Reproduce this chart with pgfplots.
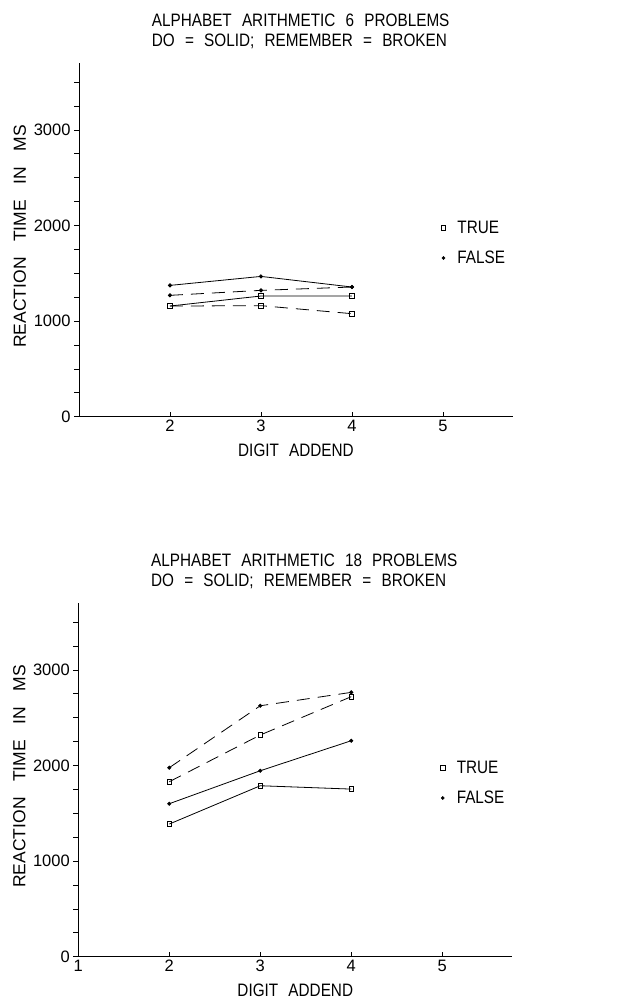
\documentclass[border=0pt]{standalone}
\usepackage{fontspec}
\setmainfont{Liberation Sans}[FakeStretch=0.85, WordSpace={2.4}]
\newfontfamily\tickfont{Liberation Sans}
\newfontfamily\labelfont{Liberation Sans}[WordSpace={3.2}]
\usepackage{pgfplots}
\pgfplotsset{compat=1.18}
\pgfplotsset{
  rtaxis/.style={
    scale only axis, width=434bp, height=353.6bp,
    xmin=1, xmax=5.77, ymin=0, ymax=3700,
    axis lines=left, axis line style={-, line width=0.8bp, black},
    ytick={0,1000,2000,3000},
    minor ytick={250,500,750,1250,1500,1750,2250,2500,2750,3250,3500},
    xtick align=inside, ytick align=outside,
    major tick length=5bp, minor tick length=5bp,
    every tick/.style={black, line width=0.8bp},
    /pgf/number format/assume math mode=true,
    /pgf/number format/1000 sep={},
    font=\fontsize{18bp}{20bp}\selectfont,
    tick label style={font=\tickfont\fontsize{16.5bp}{19bp}\selectfont},
    title style={at={(axis description cs:0.1675,1.124)}, anchor=north west, align=left, inner sep=0pt, font=\fontsize{18bp}{20bp}\selectfont},
    ylabel={REACTION TIME IN MS},
    ylabel style={at={(axis description cs:-0.136,0.51)}, anchor=center, font=\labelfont\fontsize{17.5bp}{19.5bp}\selectfont},
    xlabel={DIGIT ADDEND},
    xlabel style={at={(axis description cs:0.5,-0.077)}, anchor=north, inner sep=0pt, font=\fontsize{18bp}{20bp}\selectfont},
    legend style={draw=none, fill=none, at={(axis description cs:0.834,0.491)}, anchor=west, inner sep=0pt, row sep=12bp, font=\fontsize{18bp}{20bp}\selectfont},
    legend cell align=left,
    legend image code/.code={\draw[mark repeat=2,mark phase=2,#1] plot coordinates {(0bp,0bp) (0bp,0bp) (0bp,0bp)}; \path[draw=none, fill=none] (0bp,0bp) rectangle (12bp,0bp);},
    clip=false,
  },
  solidline/.style={black, line width=0.8bp, solid},
  brokenline/.style={black, line width=0.8bp, dash pattern=on 13bp off 8bp},
  truemark/.style={mark=square, mark size=2.3bp, mark options={solid, line width=0.8bp, fill=white}},
  falsemark/.style={mark=*, mark size=1.6bp, mark options={solid}},
}
\begin{document}
\begin{tikzpicture}
\useasboundingbox (0bp,0bp) rectangle (635bp,-999bp);
% ---- top panel: 6 problems
\begin{axis}[rtaxis, at={(79bp,-416.7bp)}, anchor=south west,
  xtick={2,3,4,5},
  title={ALPHABET ARITHMETIC 6 PROBLEMS\\DO = SOLID; REMEMBER = BROKEN}]
\addplot[solidline, truemark, forget plot] coordinates {(2,1158) (3,1263) (4,1263)};
\addplot[solidline, falsemark, forget plot] coordinates {(2,1374) (3,1468) (4,1357)};
\addplot[brokenline, truemark, forget plot] coordinates {(2,1158) (3,1162) (4,1078)};
\addplot[brokenline, falsemark, forget plot] coordinates {(2,1270) (3,1322) (4,1357)};
\addlegendimage{only marks, truemark}
\addlegendentry{TRUE}
\addlegendimage{only marks, falsemark}
\addlegendentry{FALSE}
\end{axis}
% ---- bottom panel: 18 problems
\begin{axis}[rtaxis, at={(78.3bp,-956.7bp)}, anchor=south west,
  xtick={1,2,3,4,5},
  title={ALPHABET ARITHMETIC 18 PROBLEMS\\DO = SOLID; REMEMBER = BROKEN}]
\addplot[solidline, truemark, forget plot] coordinates {(2,1388) (3,1789) (4,1754)};
\addplot[solidline, falsemark, forget plot] coordinates {(2,1601) (3,1946) (4,2260)};
\addplot[brokenline, truemark, forget plot] coordinates {(2,1831) (3,2320) (4,2721)};
\addplot[brokenline, falsemark, forget plot] coordinates {(2,1978) (3,2626) (4,2766)};
\addlegendimage{only marks, truemark}
\addlegendentry{TRUE}
\addlegendimage{only marks, falsemark}
\addlegendentry{FALSE}
\end{axis}
\end{tikzpicture}
\end{document}
